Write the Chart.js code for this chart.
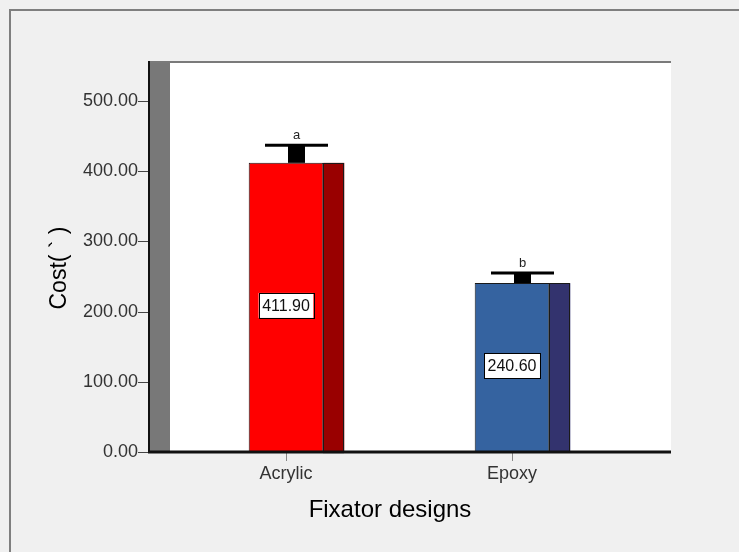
<!DOCTYPE html>
<html>
<head>
<meta charset="utf-8">
<script src="https://cdn.jsdelivr.net/npm/chart.js@4.4.1/dist/chart.umd.min.js"></script>
<style>
    html, body { margin: 0; padding: 0; background: #f0f0f0; }
    #wrap { position: relative; width: 739px; height: 552px; }
</style>
</head>
<body>
<div id="wrap"><canvas id="costChart" width="739" height="552"></canvas></div>
<script>
// Chart data
const categories = ['Acrylic', 'Epoxy'];
const meanCost = [411.90, 240.60];
const errorUpper = [437, 255];
const groupLetters = ['a', 'b'];
const yTickValues = [0, 100, 200, 300, 400, 500];

const fontFamily = '"Liberation Sans", Arial, sans-serif';
const sideColors = ['#990000', '#33336e'];

// Draws the SPSS style plot frame, 3D bar sides, error bars and labels
const spssFrame = {
    id: 'spssFrame',
    beforeDraw(chart) {
        const { ctx, width, height } = chart;
        ctx.save();
        ctx.fillStyle = '#f0f0f0';
        ctx.fillRect(0, 0, width, height);
        ctx.strokeStyle = '#7f7f7f';
        ctx.lineWidth = 2;
        ctx.beginPath();
        ctx.moveTo(10, height);
        ctx.lineTo(10, 10);
        ctx.lineTo(width, 10);
        ctx.stroke();
        ctx.restore();
    },
    beforeDatasetsDraw(chart) {
        const { ctx, chartArea: a, scales: { x, y } } = chart;
        const left = a.left - 25, right = a.right + 46;
        ctx.save();
        ctx.fillStyle = '#ffffff';
        ctx.fillRect(left, a.top, right - left, a.bottom - a.top);
        ctx.fillStyle = '#787878';
        ctx.fillRect(left, a.top, 22, a.bottom - a.top);
        ctx.fillStyle = '#7a7a7a';
        ctx.fillRect(left, a.top, right - left, 2);
        ctx.fillStyle = '#111111';
        ctx.fillRect(left, a.top, 2, a.bottom - a.top);

        // y tick marks
        ctx.strokeStyle = '#444444';
        ctx.lineWidth = 1;
        y.ticks.forEach(t => {
            const py = Math.round(y.getPixelForValue(t.value)) + 0.5;
            ctx.beginPath();
            ctx.moveTo(left - 10, py);
            ctx.lineTo(left, py);
            ctx.stroke();
        });

        // x tick marks
        ctx.strokeStyle = '#888888';
        categories.forEach((c, i) => {
            const px = Math.round(x.getPixelForValue(i)) + 0.5;
            ctx.beginPath();
            ctx.moveTo(px, a.bottom);
            ctx.lineTo(px, a.bottom + 9);
            ctx.stroke();
        });
        ctx.restore();
    },
    afterDatasetsDraw(chart) {
        const { ctx, chartArea: a, scales: { y } } = chart;
        const bars = chart.getDatasetMeta(0).data;
        const depth = 21;
        ctx.save();
        bars.forEach((bar, i) => {
            const front = bar.x + bar.width / 2;
            // side face
            ctx.fillStyle = sideColors[i];
            ctx.fillRect(front, bar.y, depth, bar.base - bar.y);
            ctx.strokeStyle = '#1a1a1a';
            ctx.lineWidth = 1;
            ctx.strokeRect(Math.round(front) + 0.5, Math.round(bar.y) + 0.5, depth - 1, bar.base - bar.y);

            // error bar
            const cx = bar.x + depth / 2;
            const yTop = y.getPixelForValue(errorUpper[i]);
            ctx.fillStyle = '#000000';
            ctx.fillRect(cx - 8.5, yTop, 17, bar.y - yTop);
            ctx.fillRect(cx - 31.5, yTop - 1.5, 63, 3);

            // group letter
            ctx.font = '13px ' + fontFamily;
            ctx.textAlign = 'center';
            ctx.textBaseline = 'middle';
            ctx.fillStyle = '#222222';
            ctx.fillText(groupLetters[i], cx, yTop - 10);

            // value label box
            const label = meanCost[i].toFixed(2);
            const midY = (bar.y + bar.base) / 2;
            ctx.font = '16px ' + fontFamily;
            const w = ctx.measureText(label).width + 7;
            const h = 25;
            ctx.fillStyle = '#ffffff';
            ctx.fillRect(bar.x - w / 2, midY - h / 2 - 2, w, h);
            ctx.strokeStyle = '#000000';
            ctx.strokeRect(Math.round(bar.x - w / 2) + 0.5, Math.round(midY - h / 2 - 2) + 0.5, Math.round(w), h);
            ctx.fillStyle = '#111111';
            ctx.fillText(label, bar.x, midY - 1);
        });

        // bottom axis line
        ctx.fillStyle = '#111111';
        ctx.fillRect(a.left - 25, a.bottom - 1.5, a.right - a.left + 71, 3);
        ctx.restore();
    },
    afterDraw(chart) {
        const { ctx } = chart;
        ctx.save();
        ctx.fillStyle = '#000000';
        ctx.textAlign = 'center';
        ctx.textBaseline = 'middle';
        ctx.font = '24px ' + fontFamily;
        ctx.fillText('Fixator designs', 390, 510);
        ctx.translate(60, 268);
        ctx.rotate(-Math.PI / 2);
        ctx.font = '23px ' + fontFamily;
        ctx.fillText('Cost( ` )', 0, 0);
        ctx.restore();
    }
};

const chart = new Chart(document.getElementById('costChart'), {
    type: 'bar',
    data: {
        labels: categories,
        datasets: [{
            data: meanCost,
            backgroundColor: ['#ff0000', '#3563a0'],
            borderColor: '#1a1a1a',
            borderWidth: 1,
            barPercentage: 0.33,
            categoryPercentage: 1
        }]
    },
    options: {
        responsive: false,
        animation: false,
        layout: {
            padding: { top: 61, right: 114 }
        },
        plugins: {
            legend: { display: false },
            tooltip: { enabled: false }
        },
        scales: {
            x: {
                grid: { display: false },
                border: { display: false },
                ticks: {
                    font: { family: fontFamily, size: 18 },
                    color: '#333333',
                    padding: 3
                },
                afterFit: scale => { scale.height = 100; }
            },
            y: {
                min: 0,
                max: 557,
                grid: { display: false },
                border: { display: false },
                ticks: {
                    font: { family: fontFamily, size: 18 },
                    color: '#333333',
                    padding: 27,
                    callback: value => Number(value).toFixed(2)
                },
                afterBuildTicks: scale => {
                    scale.ticks = yTickValues.map(v => ({ value: v }));
                },
                afterFit: scale => { scale.width = 173; }
            }
        }
    },
    plugins: [spssFrame]
});
</script>
</body>
</html>
